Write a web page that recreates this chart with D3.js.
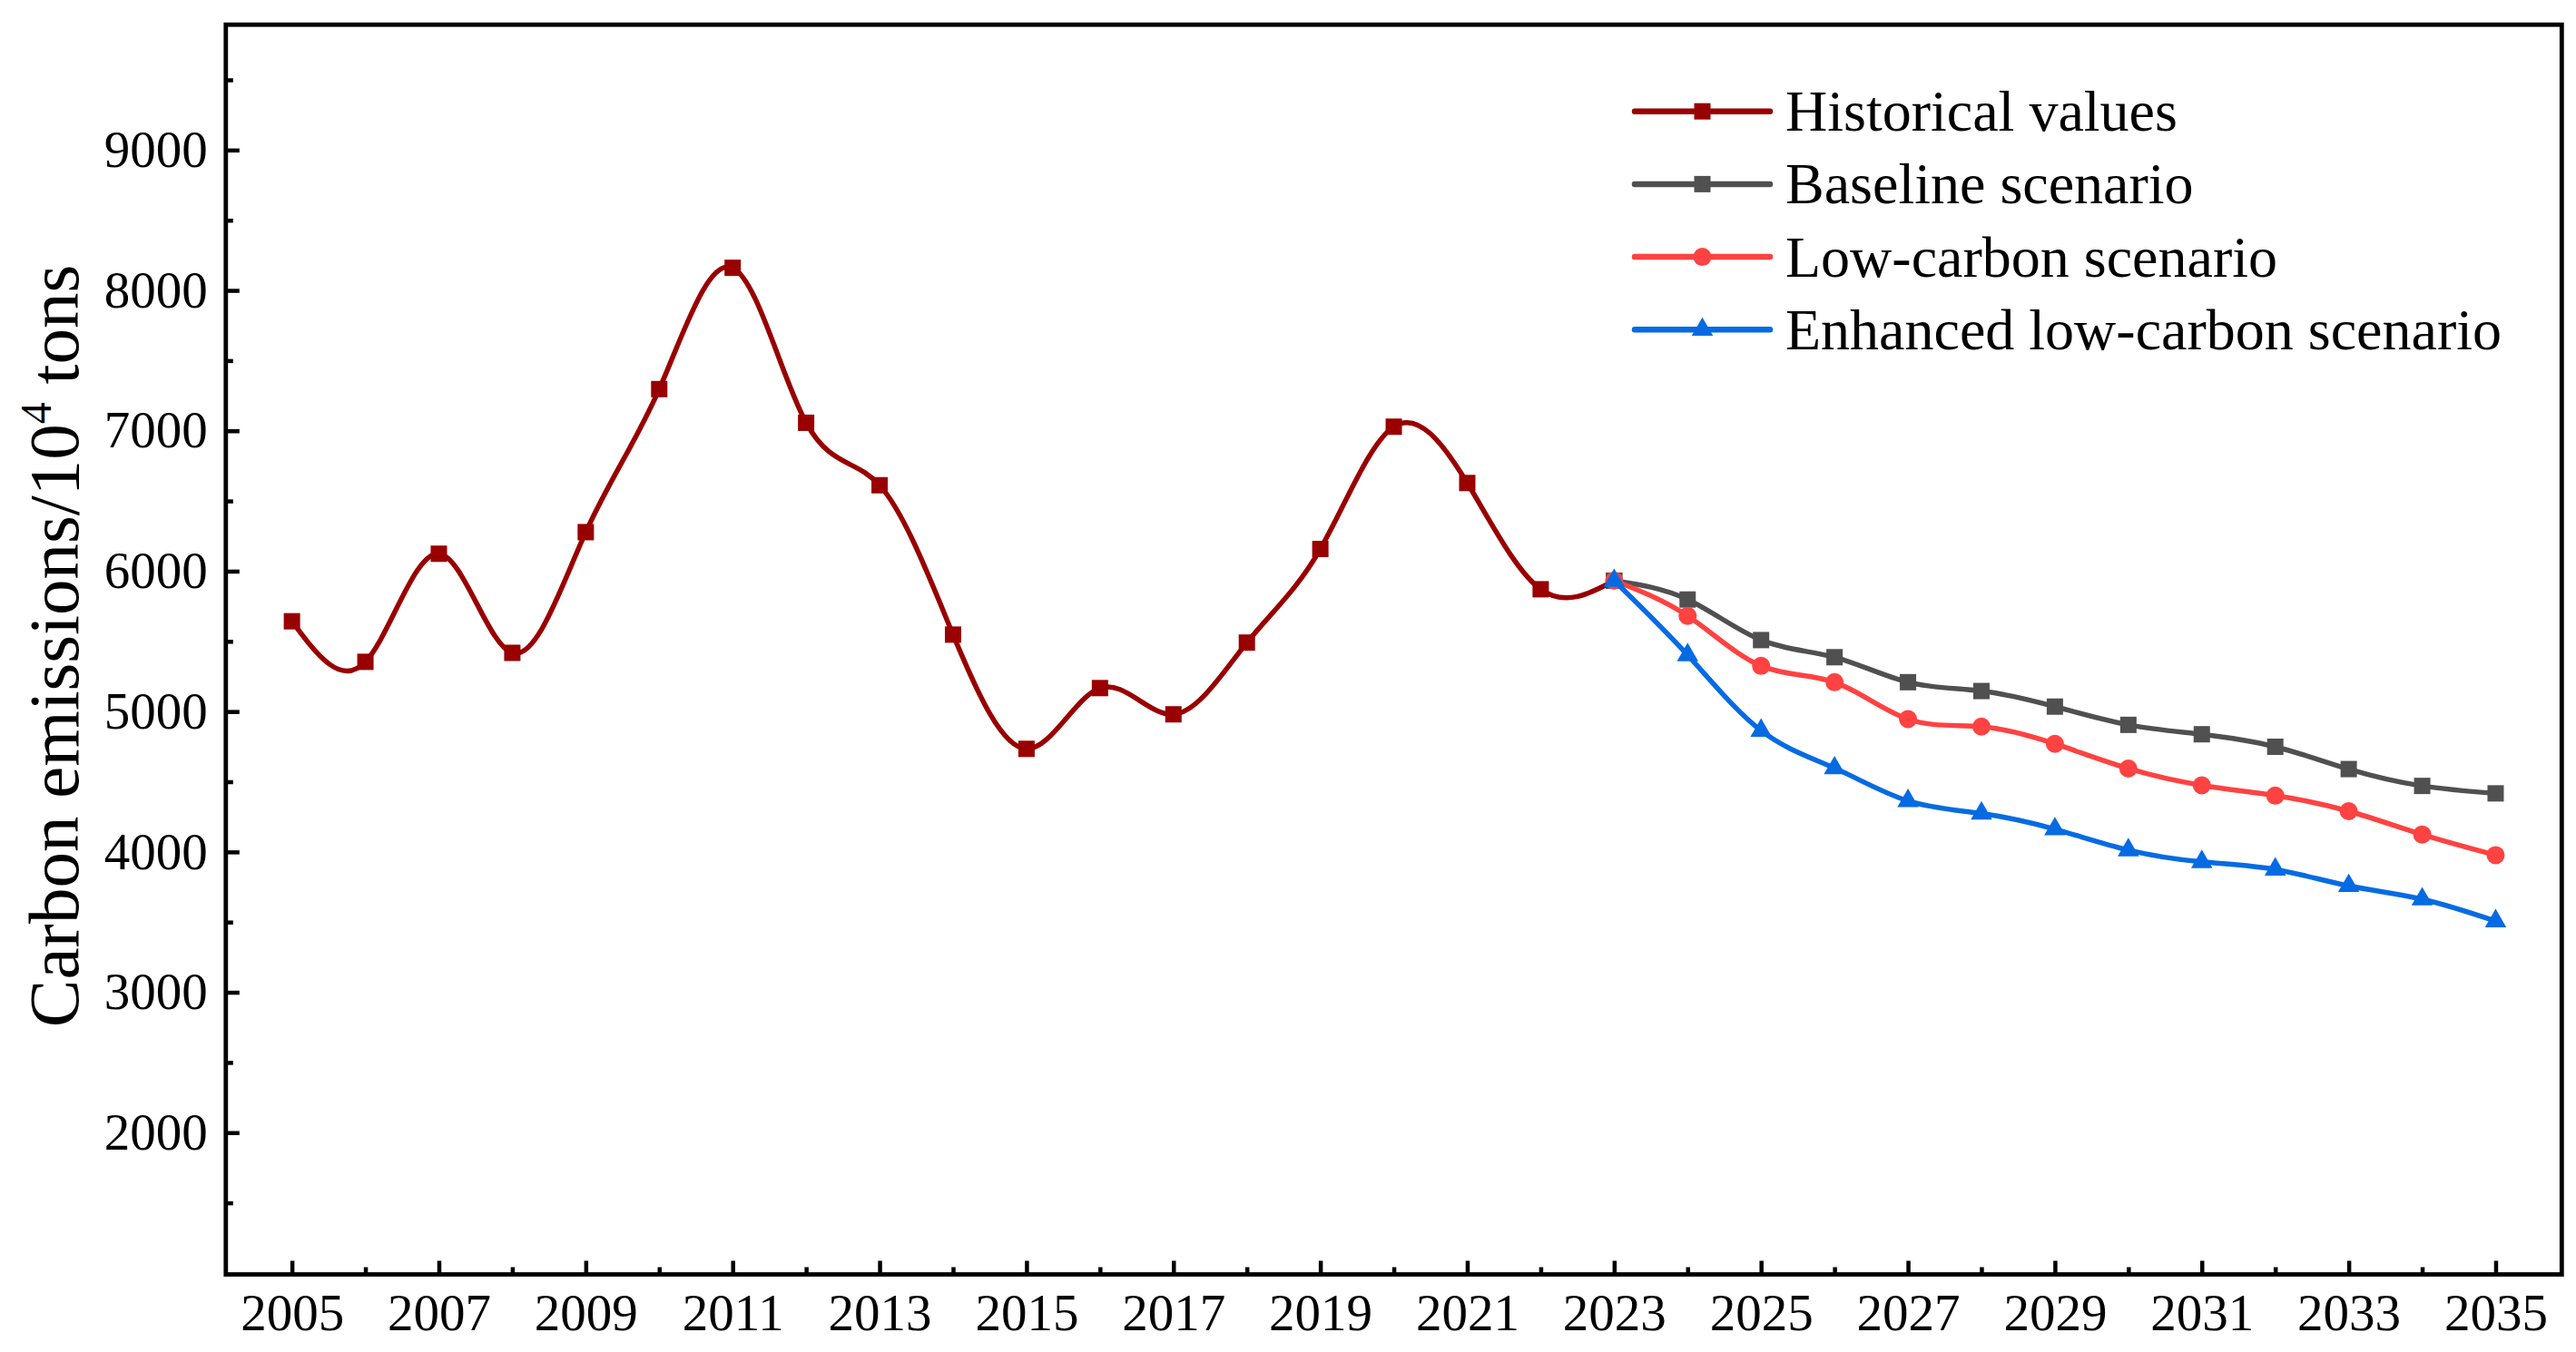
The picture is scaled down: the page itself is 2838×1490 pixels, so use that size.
<!DOCTYPE html>
<html lang="en">
<head>
  <meta charset="UTF-8">
  <title>Carbon emissions</title>
  <script src="https://cdn.jsdelivr.net/npm/d3@7"></script>
  <style>
    body { margin: 0; background: #fff; }
    svg text { font-family: "Liberation Serif", "Times New Roman", serif; fill: #000; }
  </style>
</head>
<body>
  <script>
    var w = 2838, h = 1490
    // years
    var histYears = d3.range(2005, 2024)
    var projYears = d3.range(2023, 2036)
    // values (10^4 tons)
    var historical = [5643, 5354, 6124, 5418, 6278, 7297, 8161, 7057, 6612, 5548,
      4734, 5167, 4980, 5491, 6158, 7029, 6628, 5871, 5932]
    var baseline = [5932, 5798, 5509, 5387, 5209, 5146, 5035, 4905, 4838, 4749, 4590, 4470, 4417]
    var lowCarbon = [5932, 5681, 5325, 5209, 4946, 4893, 4770, 4594, 4474, 4401, 4290, 4124, 3977]
    var enhanced = [5932, 5402, 4864, 4597, 4363, 4274, 4162, 4013, 3929, 3875, 3758, 3663, 3507]
    var seriesNames = ['Historical values', 'Baseline scenario', 'Low-carbon scenario', 'Enhanced low-carbon scenario']
    var seriesColors = ['#990000', '#505050', '#ff4242', '#066be2']
    var seriesMarkers = ['square', 'square', 'circle', 'triangle']
    var xTicks = d3.range(2005, 2036, 2)
    var xMinor = d3.range(2006, 2035, 2)
    var yTicks = d3.range(2000, 9001, 1000)
    var yMinor = d3.range(1500, 9501, 1000)

    var series = [
      { name: seriesNames[0], color: seriesColors[0], marker: seriesMarkers[0], years: histYears, values: historical },
      { name: seriesNames[1], color: seriesColors[1], marker: seriesMarkers[1], years: projYears, values: baseline },
      { name: seriesNames[2], color: seriesColors[2], marker: seriesMarkers[2], years: projYears, values: lowCarbon },
      { name: seriesNames[3], color: seriesColors[3], marker: seriesMarkers[3], years: projYears, values: enhanced }
    ]

    var plotL = 248.8, plotR = 2822.3, plotT = 27.2, plotB = 1404.5
    var xScale = d3.scaleLinear().domain([2004.1, 2035.9]).range([plotL, plotR])
    var yScale = d3.scaleLinear().domain([990, 9893]).range([plotB, plotT])

    var svg = d3.select('body').append('svg').attr('width', w).attr('height', h)

    // axes (ticks point inward)
    var gx = svg.append('g').attr('transform', 'translate(0,' + plotB + ')')
      .call(d3.axisBottom(xScale).tickValues(xTicks).tickFormat(d3.format('d'))
        .tickSizeInner(-15).tickSizeOuter(0).tickPadding(21))
    var gxm = svg.append('g').attr('transform', 'translate(0,' + plotB + ')')
      .call(d3.axisBottom(xScale).tickValues(xMinor).tickFormat('').tickSizeInner(-8).tickSizeOuter(0))
    var gy = svg.append('g').attr('transform', 'translate(' + plotL + ',0)')
      .call(d3.axisLeft(yScale).tickValues(yTicks).tickFormat(d3.format('d'))
        .tickSizeInner(-15).tickSizeOuter(0).tickPadding(20))
    var gym = svg.append('g').attr('transform', 'translate(' + plotL + ',0)')
      .call(d3.axisLeft(yScale).tickValues(yMinor).tickFormat('').tickSizeInner(-8).tickSizeOuter(0))
    ;[gx, gxm, gy, gym].forEach(function (g) {
      g.select('.domain').remove()
      g.selectAll('line').attr('stroke', '#000').attr('stroke-width', 4.5)
      g.selectAll('text').attr('font-size', '57px').attr('font-family', null)
    })

    // frame
    svg.append('rect').attr('x', plotL).attr('y', plotT)
      .attr('width', plotR - plotL).attr('height', plotB - plotT)
      .attr('fill', 'none').attr('stroke', '#000').attr('stroke-width', 4.8)

    // y title
    var title = svg.append('text')
      .attr('transform', 'translate(86,712) rotate(-90)')
      .attr('text-anchor', 'middle').attr('font-size', '79px')
    title.append('tspan').text('Carbon emissions/10')
    title.append('tspan').attr('font-size', '48px').attr('dy', '-30').text('4')
    title.append('tspan').attr('dy', '30').text(' tons')

    function drawMarker(g, type, cx, cy, color) {
      if (type === 'square') {
        g.append('rect').attr('x', cx - 9).attr('y', cy - 9).attr('width', 18).attr('height', 18).attr('fill', color)
      } else if (type === 'circle') {
        g.append('circle').attr('cx', cx).attr('cy', cy).attr('r', 10).attr('fill', color)
      } else {
        g.append('path').attr('d', d3.symbol().type(d3.symbolTriangle).size(240)())
          .attr('transform', 'translate(' + cx + ',' + cy + ')').attr('fill', color)
      }
    }

    var line = d3.line().curve(d3.curveNatural)
      .x(function (d) { return xScale(d[0]) })
      .y(function (d) { return yScale(d[1]) })

    series.forEach(function (s) {
      var pts = s.years.map(function (yr, i) { return [yr, s.values[i]] })
      var g = svg.append('g')
      g.append('path').attr('d', line(pts)).attr('fill', 'none')
        .attr('stroke', s.color).attr('stroke-width', 5.5).attr('stroke-linejoin', 'round')
      pts.forEach(function (p) { drawMarker(g, s.marker, xScale(p[0]), yScale(p[1]), s.color) })
    })

    // legend
    var legend = svg.append('g')
    series.forEach(function (s, i) {
      var ly = 122.7 + i * 80.2
      legend.append('line').attr('x1', 1801).attr('x2', 1950).attr('y1', ly).attr('y2', ly)
        .attr('stroke', s.color).attr('stroke-width', 6.5).attr('stroke-linecap', 'round')
      drawMarker(legend, s.marker, 1875.5, ly, s.color)
      legend.append('text').attr('x', 1967).attr('y', ly + 21.5)
        .attr('font-size', '64px').text(s.name)
    })
  </script>
</body>
</html>
